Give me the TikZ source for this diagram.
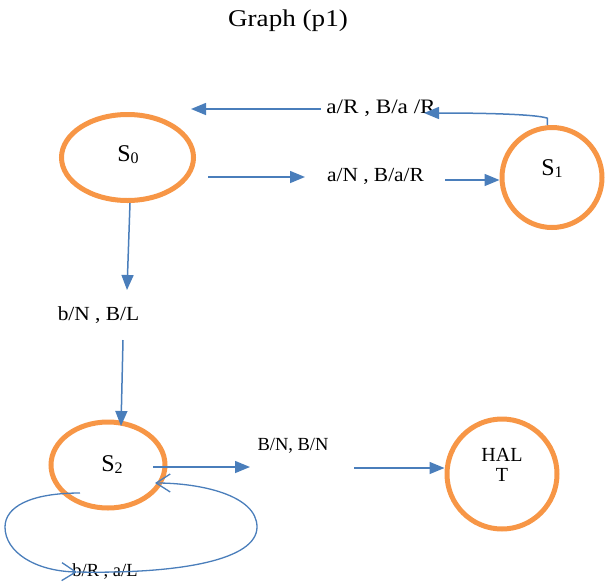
\documentclass[tikz,border=0pt]{standalone}
\usepackage{fontspec}
\setmainfont{Liberation Serif}
\newfontfamily\wideserif{Liberation Serif}[FakeStretch=1.07]
\newfontfamily\widerserif{Liberation Serif}[FakeStretch=1.13]
\usetikzlibrary{arrows.meta,shapes.geometric}
\definecolor{ringorange}{HTML}{F79646}
\definecolor{edgeblue}{HTML}{4A7EBB}
\newcommand\statesub[1]{\raisebox{-2pt}{\fontsize{16}{16}\selectfont #1}}
\begin{document}
\begin{tikzpicture}[x=1pt,y=-1pt,
  ring/.style={draw=ringorange, line width=5pt, inner sep=0pt},
  edge/.style={draw=edgeblue, line width=1.5pt, -{Triangle[length=15pt,width=12pt]}},
  loopedge/.style={draw=edgeblue, line width=1.3pt, -{Straight Barb[length=14pt,width=18pt]}},
  lbl/.style={font=\wideserif\fontsize{20}{24}\selectfont, inner sep=0pt},
  smalllbl/.style={font=\fontsize{18.5}{22}\selectfont, inner sep=0pt},
  statetext/.style={font=\fontsize{24}{28}\selectfont, inner sep=0pt}]
\useasboundingbox (0,0) rectangle (605,584);
\node[font=\widerserif\fontsize{24}{28}\selectfont, inner sep=0pt, anchor=base] (title) at (288,26) {Graph (p1)};
% states
\node[ring, ellipse, minimum width=132pt, minimum height=86pt] (s0) at (127.5,157.5) {};
\node[ring, circle, minimum size=100pt] (s1) at (552,177.5) {};
\node[ring, ellipse, minimum width=114pt, minimum height=86pt] (s2) at (108,465) {};
\node[ring, circle, minimum size=110pt] (halt) at (502,474) {};
\node[statetext, anchor=base] (s0t) at (128,161) {S\statesub{0}};
\node[statetext, anchor=base] (s1t) at (552,175) {S\statesub{1}};
\node[statetext, anchor=base] (s2t) at (112,471.5) {S\statesub{2}};
\node[font=\fontsize{20}{20}\selectfont, inner sep=0pt, align=center] (haltt) at (502,465) {HAL\\T};
% labels
\node[font=\widerserif\fontsize{20.5}{24}\selectfont, inner sep=0pt, anchor=base] (l1) at (381,113) {a/R , B/a /R};
\node[lbl, anchor=base] (l2) at (375.5,181) {a/N , B/a/R};
\node[lbl, anchor=base] (l3) at (98.5,320) {b/N , B/L};
\node[smalllbl, anchor=base] (l4) at (293,450) {B/N, B/N};
\node[smalllbl, anchor=base] (l5) at (105,576) {b/R , a/L};
% free ends
\coordinate (a1t) at (424,113);
\coordinate (t1) at (191,109);
\coordinate (t1s) at (321,109);
\coordinate (a3s) at (208,177);
\coordinate (a3t) at (305,177);
\coordinate (a4s) at (445,180);
\coordinate (a5t) at (127,290);
\coordinate (a6s) at (123,340);
\coordinate (a6t) at (121,426);
\coordinate (a7s) at (153,467);
\coordinate (a7t) at (250,467);
\coordinate (a8s) at (354,468);
\coordinate (loopstart) at (80,493);
\coordinate (loopmid) at (77,572);
\coordinate (loopend) at (155,483);
% connectors
\draw[edge] (s1.95) -- ++(0,-7) .. controls (535,114) and (480,113) .. (a1t);
\draw[edge] (t1s) -- (t1);
\draw[edge] (a3s) -- (a3t);
\draw[edge] (a4s) -- (s1.west |- a4s);
\draw[edge] ([xshift=2.5pt]s0.south) -- (a5t);
\draw[edge] (a6s) -- (a6t);
\draw[edge] (a7s) -- (a7t);
\draw[edge] (a8s) -- (halt.west |- a8s);
\draw[loopedge] (loopstart) .. controls (30,493) and (5,507) .. (5,527) .. controls (5,552) and (35,571) .. (loopmid);
\draw[loopedge] (loopmid) .. controls (180,574) and (257,560) .. (257,527) .. controls (257,495) and (200,483) .. (loopend);
\end{tikzpicture}
\end{document}
